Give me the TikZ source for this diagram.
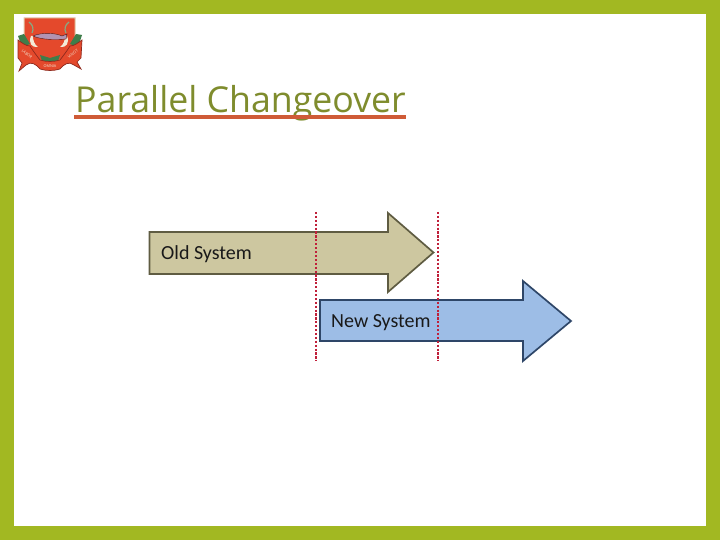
\documentclass[tikz,border=0pt]{standalone}
\usepackage{fontspec}
\setmainfont{Open Sans}
\newfontfamily\labelfont{Carlito}
\definecolor{frameg}{HTML}{A2B822}
\definecolor{titleg}{HTML}{7F8C2D}
\definecolor{rulered}{HTML}{CF5B37}
\definecolor{oldfill}{HTML}{CDC7A0}
\definecolor{oldline}{HTML}{5F5C42}
\definecolor{newfill}{HTML}{9DBDE6}
\definecolor{newline}{HTML}{2E4668}
\definecolor{dotred}{HTML}{C0203A}
\definecolor{crest}{HTML}{E4492C}
\definecolor{crestdark}{HTML}{8E2A1E}
\definecolor{crestgreen}{HTML}{3F7D4A}
\definecolor{crestcream}{HTML}{F3EBD8}
\begin{document}
\begin{tikzpicture}[x=1pt,y=-1pt,
  arrowbody/.style={line width=1.7pt,line join=miter},
  timeline/.style={dotred,line width=2.6pt,dash pattern=on 2.2pt off 1.7pt},
  boxlabel/.style={font=\labelfont\fontsize{20}{22}\selectfont,anchor=base west,inner sep=0pt,text=black!90},
  cresttext/.style={font=\fontsize{3.8}{4}\selectfont,text=crestcream,inner sep=0pt}]
\useasboundingbox (0,0) rectangle (720,540);
\fill[frameg] (0,0) rectangle (720,540);
\fill[white] (14,14) rectangle (706,526);
% crest
\fill[crest,draw=crestcream!70!brown,line width=1pt] (24,18) -- (75,18) -- (75,43) .. controls (72,55) and (60,60) .. (50,66) .. controls (40,60) and (28,55) .. (24,43) -- cycle;
\fill[crestcream] (31,36) .. controls (28,43) and (32,48) .. (38,47) .. controls (34,44) and (33,40) .. (33,36) -- cycle;
\fill[crestcream] (67,36) .. controls (70,43) and (66,48) .. (60,47) .. controls (64,44) and (65,40) .. (65,36) -- cycle;
\draw[crestgreen!60!crestcream,line width=1.2pt] (29,22) .. controls (33,25) and (34,29) .. (32,33);
\draw[crestgreen!60!crestcream,line width=1.2pt] (69,22) .. controls (65,25) and (64,29) .. (66,33);
\fill[violet!40!gray!60!white,draw=crestdark!60!black,line width=0.4pt] (33,36) .. controls (42,32) and (56,33) .. (62,36) -- (67,34) -- (66,39) .. controls (56,40) and (42,40) .. (33,36) -- cycle;
\fill[crestgreen] (18,36) -- (24,34) -- (30,44) -- (22,47) -- cycle;
\fill[crestgreen] (82,35) -- (76,34) -- (70,44) -- (78,47) -- cycle;
\fill[crestgreen] (40,55) -- (50,58) -- (60,55) -- (58,61) -- (42,61) -- cycle;
\fill[crest,draw=crestdark,line width=0.7pt] (18,40) .. controls (22,43) and (26,46) .. (30,46) .. controls (33,51) and (37,56) .. (40,60) .. controls (46,62) and (54,62) .. (60,60) .. controls (63,56) and (67,51) .. (70,46) .. controls (74,46) and (78,43) .. (82,40) -- (81,58) -- (77,62) -- (81,69) -- (74,65) .. controls (69,61) and (64,64) .. (60,69) .. controls (54,71) and (46,71) .. (40,69) .. controls (36,64) and (31,61) .. (26,65) -- (19,71) -- (22,63) -- (18,58) -- cycle;
\node[cresttext,rotate=-38] (c1) at (27,54) {LABOR};
\node[cresttext] (c2) at (50,66) {OMNIA};
\node[cresttext,rotate=38] (c3) at (73,54) {VINCIT};
% title
\node[font=\fontsize{35.7}{40}\selectfont,text=titleg,anchor=base west,inner sep=0pt] (title) at (75,113) {Parallel Changeover};
\coordinate (ruleL) at (74,117);
\coordinate (ruleR) at (406,117);
\draw[rulered,line width=3.2pt] (ruleL) -- (ruleR);
% arrows
\draw[arrowbody,fill=oldfill,draw=oldline] (149.5,232) -- (388,232) -- (388,213) -- (433.5,252.5) -- (388,292) -- (388,274) -- (149.5,274) -- cycle;
\draw[arrowbody,fill=newfill,draw=newline] (320,300) -- (523,300) -- (523,281) -- (571,321) -- (523,361) -- (523,341) -- (320,341) -- cycle;
\node[boxlabel] (old) at (161,259) {Old System};
\node[boxlabel] (new) at (331,327) {New System};
% markers
\coordinate (a1) at (316,212); \coordinate (a2) at (316,361);
\coordinate (b1) at (438,212); \coordinate (b2) at (438,361);
\draw[timeline] (a1) -- (a2);
\draw[timeline] (b1) -- (b2);
\end{tikzpicture}
\end{document}
